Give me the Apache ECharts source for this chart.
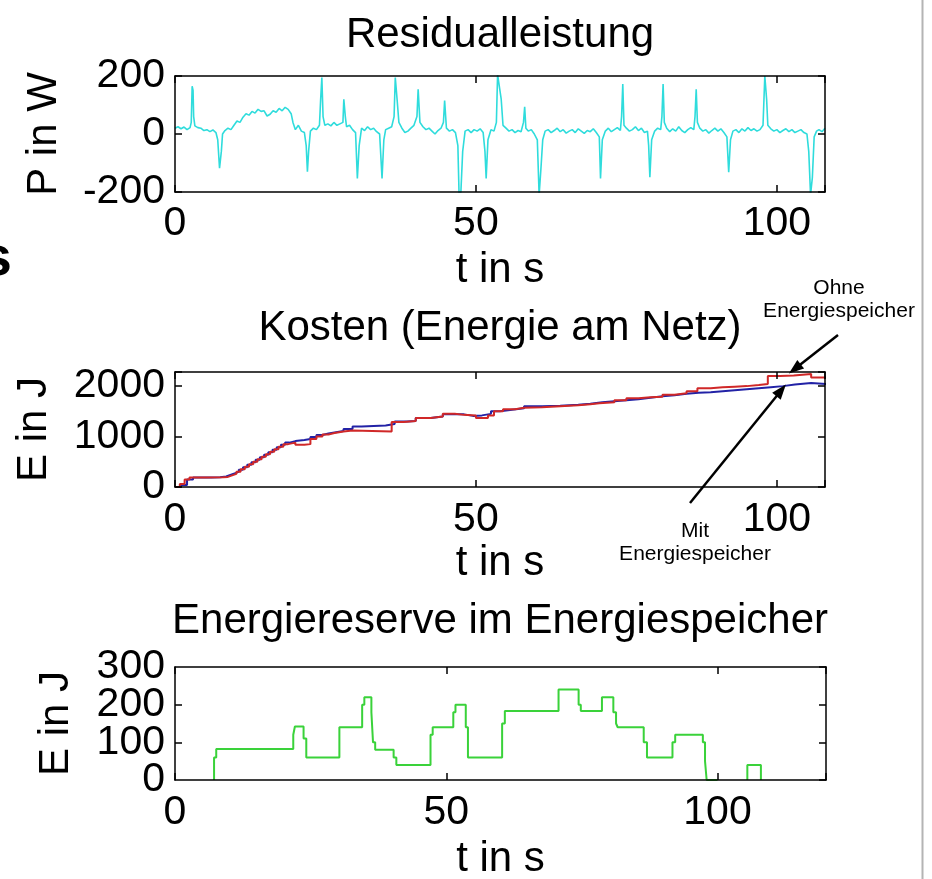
<!DOCTYPE html>
<html><head><meta charset="utf-8">
<script src="https://cdn.jsdelivr.net/npm/echarts@6/dist/echarts.min.js"></script>
<style>html,body{margin:0;padding:0;background:#fff}#c{width:932px;height:879px}</style>
</head><body><div id="c"></div>
<script>
// ---------- data ----------
const titles = ['Residualleistung', 'Kosten (Energie am Netz)', 'Energiereserve im Energiespeicher'];
const yNames = ['P in W', 'E in J', 'E in J'];
const xName = 't in s';
const xTickLabels = [0, 50, 100];
const yTicksResidual = [-200, 0, 200];
const yTicksKosten = [0, 1000, 2000];
const yTicksReserve = [0, 100, 200, 300];

// Residualleistung (W)
const tResidual = [
0,0.5,1,1.5,2,2.5,2.7,2.85,3,3.1,3.3,3.8,4.3,4.8,5.3,5.8,6.3,6.8,7.1,7.4,
7.7,7.9,8.3,8.8,9.3,9.8,10.3,10.8,11.3,11.8,12.3,12.8,13.3,13.8,14.3,14.8,15.3,15.8,16.3,16.8,
17.3,17.8,18.3,18.8,19.3,19.6,20,20.5,21,21.5,21.8,22,22.2,22.5,23,23.5,24,24.2,24.4,24.6,
24.9,25.4,25.9,26.4,26.9,27.4,27.9,28.05,28.3,28.5,29,29.5,30,30.3,30.6,31,31.5,32,32.5,33,
33.5,34,34.4,34.7,35,35.5,36,36.4,36.6,36.9,37.2,37.7,38.2,38.7,39.2,39.7,40.2,40.4,40.7,41.2,
41.7,42.2,42.7,43.2,43.7,44.2,44.6,44.8,45.1,45.6,46.1,46.6,47,47.2,47.5,47.8,48.2,48.7,49.2,49.7,
50.2,50.7,51.2,51.5,51.7,52,52.5,53,53.4,53.6,53.9,54.2,54.5,55,55.5,56,56.5,57,57.5,57.9,
58.1,58.3,58.7,59.2,59.7,60.2,60.5,60.8,61.1,61.5,62,62.5,63,63.5,64,64.5,65,65.5,66,66.5,
67,67.5,68,68.5,69,69.5,70,70.5,70.7,71,71.5,72,72.5,73,73.5,74,74.2,74.4,74.6,75,
75.5,76,76.5,77,77.5,78,78.5,78.7,78.9,79.2,79.7,80.2,80.7,80.9,81.1,81.3,81.7,82.2,82.7,83.2,
83.7,84.2,84.7,85.2,85.7,86.2,86.4,86.6,86.8,87.2,87.7,88.2,88.7,89.2,89.7,90.2,90.7,91.2,91.7,92,
92.3,92.7,93.2,93.7,94.2,94.7,95.2,95.7,96.2,96.7,97.2,97.7,98,98.3,98.5,99,99.5,100,100.5,101,
101.5,102,102.5,103,103.5,104,104.5,105,105.3,105.6,105.9,106.2,106.6,107,107.5,108];
const pResidual = [
20,25,18,24,15,22,40,165,150,60,28,22,20,12,15,8,14,5,-20,-118,
-60,0,12,20,15,30,45,40,58,70,65,78,72,85,78,80,62,68,80,75,
88,80,92,85,70,40,15,30,10,5,-40,-130,-60,10,20,15,30,120,195,60,
30,35,28,40,30,35,40,120,60,25,30,15,5,-153,-40,20,12,25,15,20,
8,0,-153,-20,15,20,25,60,195,120,40,20,5,10,20,30,60,154,40,25,
15,20,10,0,12,20,40,115,20,10,15,5,-40,-210,-200,-60,10,15,5,15,
10,18,5,-60,-153,-20,15,10,40,205,205,120,30,20,10,15,5,12,8,40,
94,20,10,15,0,-20,-210,-120,-20,10,15,5,12,20,8,15,3,10,15,5,
18,10,2,12,8,18,5,-10,-153,-20,10,20,8,15,22,12,60,172,30,20,
10,15,25,12,20,5,10,-40,-149,-20,10,20,15,60,172,40,20,8,18,10,
25,12,5,15,22,15,60,154,40,20,10,15,3,12,20,10,18,5,-10,-132,
-20,10,15,5,18,10,22,12,18,10,15,30,200,120,30,18,10,15,5,12,
18,8,15,5,10,15,5,0,-60,-210,-150,-10,10,15,8,20];

// Kosten (J) - mit Energiespeicher (blue)
const tMit = [0,1,2,3,6,7.5,8.5,9.2,9.9,10.6,11.3,12,12.7,13.4,14.1,14.8,15.5,16.2,16.9,17.6,
18.3,19,20,21.5,22.5,23.5,24.5,25.5,26.5,28,29.5,31,35,36.5,38.5,40,42.5,44.5,46.5,48,
49.5,51,52.5,54,56,58,61,64,67,69,71,73,75,77,79,81,83,85,87,89,
91,93,95,97,99,101,103,105.7,108.3];
const eMit = [0,40,150,190,195,210,240,270,300,340,390,440,490,540,590,640,690,740,790,840,
880,910,930,950,990,1030,1060,1080,1110,1150,1200,1220,1250,1300,1310,1370,1400,1440,1440,1410,
1420,1450,1500,1530,1560,1600,1610,1630,1650,1680,1700,1720,1740,1770,1800,1820,1850,1870,1880,1900,
1920,1940,1960,1980,2000,2030,2060,2040,2040];
// Kosten (J) - ohne Energiespeicher (red)
const tOhne = [0,0.8,1.6,2.4,5,8,8.8,9.5,10.2,10.9,11.6,12.3,13,13.7,14.4,15.1,15.8,16.5,17.2,18,
18.8,20,21.5,22.5,23.5,24.5,25.5,26.5,28,29.5,36,38,40,42.5,44.5,46.5,48,50,52,53,
54.5,56.5,58,61,64,67,69,70.5,73,75,77,79,81,83,85,86.8,89,91,93,95,
97,98.5,100.5,102.8,105.7,108.3];
const eOhne = [0,60,150,190,195,200,230,260,300,350,400,450,500,550,600,650,700,750,800,850,
880,840,850,950,1000,1040,1070,1100,1120,1100,1290,1310,1370,1400,1450,1430,1420,1370,1420,1500,
1540,1570,1580,1600,1620,1640,1660,1680,1720,1760,1780,1790,1830,1860,1900,1960,1980,1990,2000,2020,
2040,2200,2210,2240,2170,2170];

// Energiereserve (J); null = no stored energy (line not drawn)
const tReserve = [7.2,7.2,7.6,21.8,22.1,23.7,24.2,30.3,34.5,34.9,36.2,36.5,36.9,40.3,40.8,47.1,47.5,51.3,51.7,53.6,
54.0,60.3,60.8,70.7,74.4,74.8,78.7,80.8,81.3,81.6,86.4,87.0,91.7,92.2,97.3,97.7,98.0,100,105.5,105.5,108.0];
const eReserve = [0,60,82,120,142,110,60,140,200,220,180,100,80,60,40,120,140,180,200,140,
60,150,183,240,200,183,220,180,150,140,100,60,100,120,100,50,0,null,0,40,0];

// ---------- chart ----------
const FONT = '"Liberation Sans", Arial, Helvetica, sans-serif';
const zip = (a, b) => a.map((v, i) => [v, b[i] === null ? '-' : b[i]]);
const chart = echarts.init(document.getElementById('c'));

const grids = [
  {left: 175, right: 107, top: 76, height: 116},
  {left: 175, right: 107, top: 372, height: 115},
  {left: 175, right: 106, top: 667, height: 113}
];
const xMax = [108, 108, 120];
const yCfg = [
  {min: -200, max: 200, interval: 200, ticks: yTicksResidual, gap: 110},
  {min: 0, max: 2280, interval: 1000, ticks: yTicksKosten, gap: 120},
  {min: 0, max: 300, interval: 100, ticks: yTicksReserve, gap: 98}
];
const LH = 20;
const xLabelMargin = [22, 23, 23];
const xNameGap = [62, 60, 63];
const titleTop = [14, 307, 600];

const lineAx = {show: true, onZero: false, lineStyle: {color: '#000', width: 1.5}};
const tickAx = {show: true, inside: true, length: 7, lineStyle: {color: '#000', width: 1.5}};
const labelBase = {color: '#000', fontSize: 41, lineHeight: LH, fontFamily: FONT, hideOverlap: false};

const xAxis = [], yAxis = [];
grids.forEach((g, i) => {
  xAxis.push({
    type: 'value', gridIndex: i, position: 'bottom', min: 0, max: xMax[i], interval: 50, z: 5,
    axisLine: lineAx, axisTick: tickAx, splitLine: {show: false},
    axisLabel: Object.assign({margin: xLabelMargin[i], showMinLabel: true, showMaxLabel: true,
      formatter: v => xTickLabels.includes(v) ? String(v) : ''}, labelBase),
    name: xName, nameLocation: 'middle', nameGap: xNameGap[i], nameMoveOverlap: false,
    nameTextStyle: {color: '#000', fontSize: 42, lineHeight: 32, fontFamily: FONT}
  });
  xAxis.push({
    type: 'value', gridIndex: i, position: 'top', min: 0, max: xMax[i], interval: 50, z: 5,
    axisLine: lineAx, axisTick: tickAx, splitLine: {show: false}, axisLabel: {show: false}
  });
  const y = yCfg[i];
  const dense = i === 2;  // labels too close: inner labels on this axis, min/max on a companion axis
  yAxis.push({
    type: 'value', gridIndex: i, position: 'left', min: y.min, max: y.max, interval: y.interval, z: 5,
    axisLine: lineAx, axisTick: tickAx, splitLine: {show: false},
    axisLabel: Object.assign({margin: 10, showMinLabel: !dense, showMaxLabel: !dense,
      formatter: v => y.ticks.includes(v) ? String(v) : ''}, labelBase),
    name: yNames[i], nameLocation: 'middle', nameGap: y.gap + 5, nameRotate: 90, nameMoveOverlap: false,
    nameTextStyle: {color: '#000', fontSize: 42, lineHeight: 32, fontFamily: FONT}
  });
  yAxis.push({
    type: 'value', gridIndex: i, position: 'right', min: y.min, max: y.max, interval: y.interval, z: 5,
    axisLine: lineAx, axisTick: tickAx, splitLine: {show: false}, axisLabel: {show: false}
  });
});
// companion axis carrying the min / max labels of the Energiereserve plot
yAxis.push({
  type: 'value', gridIndex: 2, position: 'left', min: yCfg[2].min, max: yCfg[2].max, interval: yCfg[2].interval, z: 5,
  axisLine: {show: false}, axisTick: {show: false}, splitLine: {show: false},
  axisLabel: Object.assign({margin: 10, showMinLabel: true, showMaxLabel: true,
    formatter: v => (v === yCfg[2].min || v === yCfg[2].max) ? String(v) : ''}, labelBase)
});

const option = {
  animation: false,
  backgroundColor: '#fff',
  title: titles.map((t, i) => ({
    text: t, left: 500, textAlign: 'center', top: titleTop[i], padding: 0,
    textStyle: {color: '#000', fontSize: 42, fontWeight: 'normal', fontFamily: FONT}
  })),
  grid: grids.map(g => Object.assign({containLabel: false, outerBoundsMode: 'none', show: false}, g)),
  xAxis, yAxis,
  series: [
    {name: 'Residualleistung', type: 'line', xAxisIndex: 0, yAxisIndex: 0, data: zip(tResidual, pResidual),
      showSymbol: false, lineStyle: {color: '#2fdcdc', width: 1.6}, itemStyle: {color: '#2fdcdc'}, clip: true},
    {name: 'Mit Energiespeicher', type: 'line', step: 'end', xAxisIndex: 2, yAxisIndex: 2, data: zip(tMit, eMit),
      showSymbol: false, lineStyle: {color: '#2222a6', width: 2}, itemStyle: {color: '#2222a6'}, clip: true},
    {name: 'Ohne Energiespeicher', type: 'line', step: 'end', xAxisIndex: 2, yAxisIndex: 2, data: zip(tOhne, eOhne),
      showSymbol: false, lineStyle: {color: '#d02828', width: 2}, itemStyle: {color: '#d02828'}, clip: true},
    {name: 'Energiereserve', type: 'line', step: 'end', xAxisIndex: 4, yAxisIndex: 4, data: zip(tReserve, eReserve),
      showSymbol: false, connectNulls: false, lineStyle: {color: '#3ad23a', width: 2}, itemStyle: {color: '#3ad23a'}, clip: true}
  ]
};
chart.setOption(option);

// ---------- annotations ----------
function arrow(tail, head) {
  const dx = head[0] - tail[0], dy = head[1] - tail[1];
  const L = Math.hypot(dx, dy), ux = dx / L, uy = dy / L;
  const hl = 15, hw = 5.5;
  const base = [head[0] - ux * hl, head[1] - uy * hl];
  return [
    {type: 'line', z: 100, shape: {x1: tail[0], y1: tail[1], x2: base[0] + ux * 2, y2: base[1] + uy * 2},
      style: {stroke: '#000', lineWidth: 2.5}},
    {type: 'polygon', z: 100, shape: {points: [head, [base[0] - uy * hw, base[1] + ux * hw], [base[0] + uy * hw, base[1] - ux * hw]]},
      style: {fill: '#000'}}
  ];
}
const headOhne = chart.convertToPixel({xAxisIndex: 2, yAxisIndex: 2}, [102, 2250]);
const headMit = chart.convertToPixel({xAxisIndex: 2, yAxisIndex: 2}, [101.5, 2030]);
const ANN = '"Liberation Sans", Arial, sans-serif';
chart.setOption({
  graphic: [
    ...arrow([838, 335], headOhne),
    ...arrow([690, 503], headMit),
    {type: 'text', z: 100, style: {text: 'Ohne\nEnergiespeicher', x: 839, y: 300, align: 'center', verticalAlign: 'middle',
      font: '21px ' + ANN, fill: '#000', lineHeight: 23}},
    {type: 'text', z: 100, style: {text: 'Mit\nEnergiespeicher', x: 695, y: 542.5, align: 'center', verticalAlign: 'middle',
      font: '21px ' + ANN, fill: '#000', lineHeight: 23}},
    {type: 'text', z: 100, style: {text: 's', x: 12, y: 260, align: 'right', verticalAlign: 'middle',
      font: 'bold 56px ' + ANN, fill: '#000'}},
    {type: 'line', z: 100, shape: {x1: 922.5, y1: 0, x2: 922.5, y2: 879}, style: {stroke: '#b4b4b4', lineWidth: 2}}
  ]
});
</script></body></html>
